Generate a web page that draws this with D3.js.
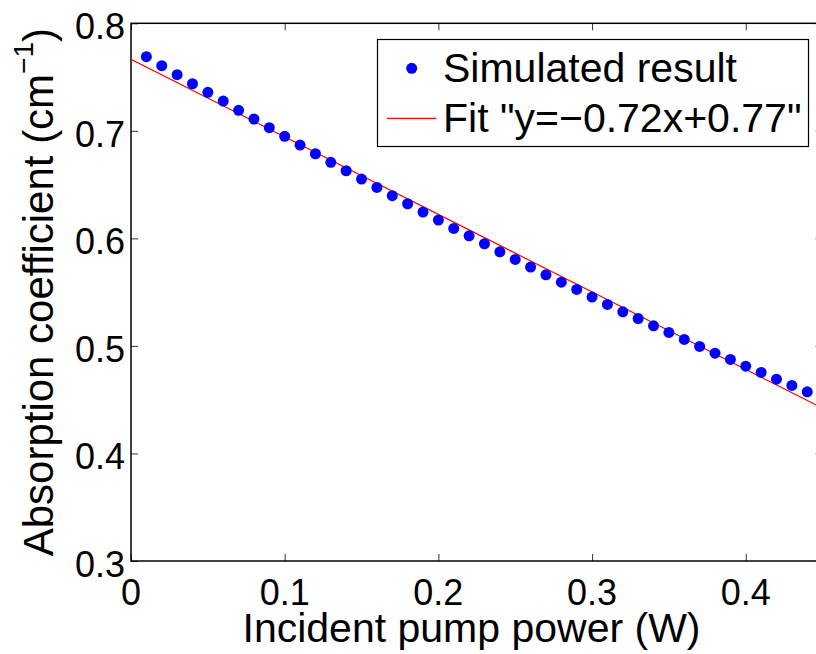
<!DOCTYPE html>
<html>
<head>
<meta charset="utf-8">
<script src="https://cdn.jsdelivr.net/npm/d3@7"></script>
<style>
  body { margin: 0; background: #fff; }
  svg { display: block; font-family: "Liberation Sans", Arial, Helvetica, sans-serif; }
</style>
</head>
<body>
<svg id="chart" width="816" height="654"></svg>
<script>
// incident pump power (W)
var power = [0.01,0.02,0.03,0.04,0.05,0.06,0.07,0.08,0.09,0.10,
             0.11,0.12,0.13,0.14,0.15,0.16,0.17,0.18,0.19,0.20,
             0.21,0.22,0.23,0.24,0.25,0.26,0.27,0.28,0.29,0.30,
             0.31,0.32,0.33,0.34,0.35,0.36,0.37,0.38,0.39,0.40,
             0.41,0.42,0.43,0.44];
// simulated absorption coefficient (cm^-1)
var absorption = [0.769,0.7606,0.7522,0.7438,0.7358,0.7277,0.7191,0.711,0.7029,0.6949,
                  0.6868,0.6787,0.6707,0.6629,0.6552,0.6474,0.6397,0.6322,0.6245,0.617,
                  0.6093,0.6024,0.595,0.5875,0.5804,0.5733,0.5661,0.5593,0.5525,0.5454,
                  0.5386,0.5317,0.5255,0.5187,0.5125,0.506,0.4995,0.4933,0.4874,0.4812,
                  0.4753,0.4691,0.4633,0.4573];
// linear fit as drawn
var fitSlope = -0.721;
var fitIntercept = 0.7665;
var xTicks = [0, 0.1, 0.2, 0.3, 0.4];
var yTicks = [0.3, 0.4, 0.5, 0.6, 0.7, 0.8];
var legendLabels = ["Simulated result", 'Fit "y=\u22120.72x+0.77"'];

var svg = d3.select("#chart");
var mLeft = 131, mRight = 822.6, mTop = 23.3, mBottom = 561;

var x = d3.scaleLinear().domain([0, 0.45]).range([mLeft, mRight]);
var y = d3.scaleLinear().domain([0.3, 0.8]).range([mBottom, mTop]);

svg.append("defs").append("clipPath").attr("id", "clip")
  .append("rect").attr("x", mLeft).attr("y", mTop)
  .attr("width", mRight - mLeft).attr("height", mBottom - mTop);

// ticks (inward, all four sides)
var tickLen = 7;
function styleTicks(a) { a.select(".domain").remove(); a.selectAll("line").attr("stroke", "#333"); }
var g = svg.append("g");
g.append("g").attr("transform", "translate(0," + mBottom + ")")
  .call(d3.axisBottom(x).tickValues(xTicks).tickSizeInner(-tickLen).tickSizeOuter(0).tickFormat(""))
  .call(styleTicks);
g.append("g").attr("transform", "translate(0," + mTop + ")")
  .call(d3.axisTop(x).tickValues(xTicks).tickSizeInner(-tickLen).tickSizeOuter(0).tickFormat(""))
  .call(styleTicks);
g.append("g").attr("transform", "translate(" + mLeft + ",0)")
  .call(d3.axisLeft(y).tickValues(yTicks).tickSizeInner(-tickLen).tickSizeOuter(0).tickFormat(""))
  .call(styleTicks);
g.append("g").attr("transform", "translate(" + mRight + ",0)")
  .call(d3.axisRight(y).tickValues(yTicks).tickSizeInner(-tickLen).tickSizeOuter(0).tickFormat(""))
  .call(styleTicks);

// box
svg.append("rect").attr("x", mLeft).attr("y", mTop)
  .attr("width", mRight - mLeft).attr("height", mBottom - mTop)
  .attr("fill", "none").attr("stroke", "#000").attr("stroke-width", 1.5);

// tick labels
svg.selectAll(".xl").data(xTicks).enter().append("text")
  .attr("x", function(d) { return x(d); }).attr("y", mBottom + 44)
  .attr("text-anchor", "middle").attr("font-size", 36)
  .text(function(d) { return d3.format("")(d); });
svg.selectAll(".yl").data(yTicks).enter().append("text")
  .attr("x", mLeft - 6).attr("y", function(d) { return y(d) + 16; })
  .attr("text-anchor", "end").attr("font-size", 36)
  .text(function(d) { return d.toFixed(1); });

// axis titles
svg.append("text").attr("x", (mLeft + 816) / 2 - 2).attr("y", 642)
  .attr("text-anchor", "middle").attr("font-size", 41)
  .text("Incident pump power (W)");
var yt = svg.append("text").attr("transform", "translate(53," + ((mTop + mBottom) / 2) + ") rotate(-90)")
  .attr("text-anchor", "middle").attr("font-size", 42);
yt.append("tspan").text("Absorption coefficient (cm");
yt.append("tspan").attr("font-size", 28).attr("dy", -20).text("\u22121");
yt.append("tspan").attr("dy", 20).text(")");

// fit line
var plot = svg.append("g").attr("clip-path", "url(#clip)");
var fitX = d3.extent(x.domain());
plot.append("path")
  .datum(fitX)
  .attr("d", d3.line().x(function(d) { return x(d); }).y(function(d) { return y(fitSlope * d + fitIntercept); }))
  .attr("stroke", "#ff0000").attr("stroke-width", 1.2).attr("fill", "none");

// simulated points
plot.selectAll("circle").data(power).enter().append("circle")
  .attr("cx", function(d) { return x(d); })
  .attr("cy", function(d, i) { return y(absorption[i]); })
  .attr("r", 5.5).attr("fill", "#0000ff");

// legend
var lg = svg.append("g");
lg.append("rect").attr("x", 377.5).attr("y", 39.5).attr("width", 431).attr("height", 107)
  .attr("fill", "#fff").attr("stroke", "#000").attr("stroke-width", 1.2);
lg.append("circle").attr("cx", 411.7).attr("cy", 68.3).attr("r", 5.5).attr("fill", "#0000ff");
lg.append("line").attr("x1", 387).attr("x2", 436).attr("y1", 118.3).attr("y2", 118.3)
  .attr("stroke", "#ff0000").attr("stroke-width", 1.2);
lg.selectAll("text").data(legendLabels).enter().append("text")
  .attr("x", 443).attr("y", function(d, i) { return 82 + i * 50; })
  .attr("font-size", 41).text(function(d) { return d; });
</script>
</body>
</html>
